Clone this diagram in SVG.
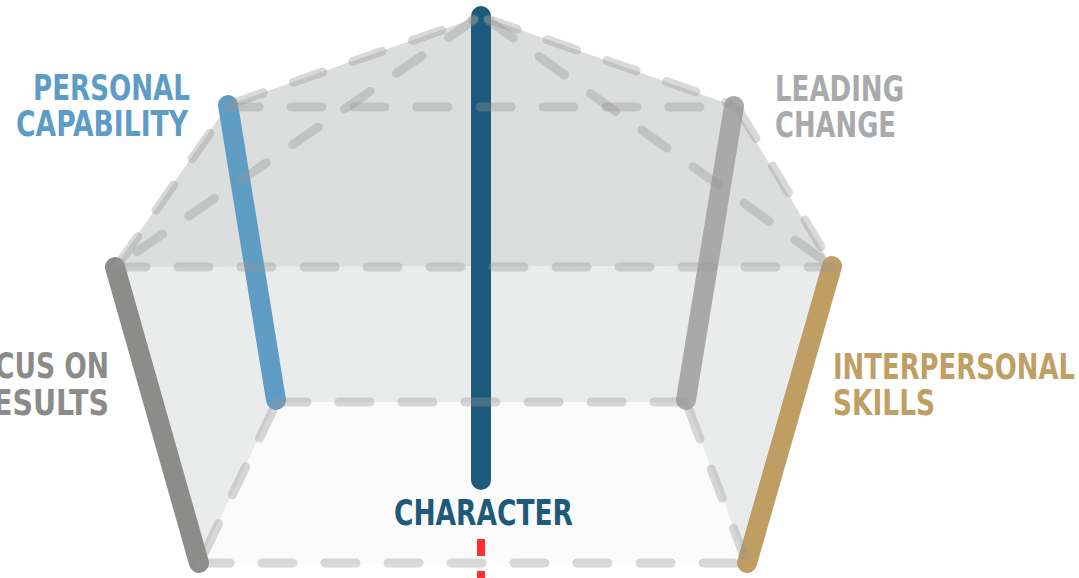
<svg xmlns="http://www.w3.org/2000/svg" width="1079" height="578" viewBox="0 0 1079 578">
<style>
.bar{fill:none;stroke-width:20;stroke-linecap:round}
.dash{fill:none;stroke:#969696;stroke-opacity:0.36;stroke-width:9;stroke-linecap:round;stroke-dasharray:31 32}
.lbl{font-family:"Liberation Sans Narrow","DejaVu Sans Condensed","Liberation Sans",sans-serif;font-weight:bold;font-size:35px}
</style>
<rect width="1079" height="578" fill="#ffffff"/>
<g id="surfaces">
<polygon points="115,267 228,105 481,16 734,106 832,266" fill="#dcdddd"/>
<polygon points="115,267 832,266 747,563 686,402 276,402 199,563" fill="#eaebeb"/>
<polygon points="276,402 686,402 747,563 199,563" fill="#fbfbfb"/>
</g>
<g id="node-focus">
<line class="bar" x1="115" y1="267" x2="199" y2="563" stroke="#8c8c8a"/>
<text class="lbl" x="-5" y="378" textLength="114" lengthAdjust="spacingAndGlyphs" fill="#8b8b89">CUS ON</text>
<text class="lbl" x="-7" y="415" textLength="116" lengthAdjust="spacingAndGlyphs" fill="#8b8b89">ESULTS</text>
</g>
<g id="node-personal">
<line class="bar" x1="228" y1="105" x2="276" y2="400" stroke="#5f9dc5"/>
<text class="lbl" x="33" y="100" textLength="157" lengthAdjust="spacingAndGlyphs" fill="#5d9cc6">PERSONAL</text>
<text class="lbl" x="16" y="136" textLength="172" lengthAdjust="spacingAndGlyphs" fill="#5d9cc6">CAPABILITY</text>
</g>
<g id="node-leading">
<line class="bar" x1="734" y1="106" x2="686" y2="400" stroke="#a9a9a9"/>
<text class="lbl" x="775" y="101" textLength="129" lengthAdjust="spacingAndGlyphs" fill="#a9aaab">LEADING</text>
<text class="lbl" x="775" y="137" textLength="121" lengthAdjust="spacingAndGlyphs" fill="#a9aaab">CHANGE</text>
</g>
<g id="node-interpersonal">
<line class="bar" x1="832" y1="266" x2="747" y2="563" stroke="#bf9d63"/>
<text class="lbl" x="833" y="379" textLength="242" lengthAdjust="spacingAndGlyphs" fill="#bf9f64">INTERPERSONAL</text>
<text class="lbl" x="833" y="415" textLength="102" lengthAdjust="spacingAndGlyphs" fill="#bf9f64">SKILLS</text>
</g>
<g id="node-character">
<line class="bar" x1="481" y1="16" x2="481" y2="480" stroke="#1b5a7a"/>
<text class="lbl" x="394" y="525" textLength="179" lengthAdjust="spacingAndGlyphs" fill="#1d5a7a">CHARACTER</text>
</g>
<g id="connectors">
<line class="dash" x1="228" y1="107" x2="734" y2="107"/>
<line class="dash" x1="115" y1="267" x2="832" y2="267"/>
<line class="dash" x1="276" y1="402" x2="686" y2="402"/>
<line class="dash" x1="199" y1="563" x2="747" y2="563"/>
<line class="dash" x1="120" y1="262" x2="226" y2="110"/>
<line class="dash" x1="234" y1="103" x2="474" y2="19"/>
<line class="dash" x1="488" y1="19" x2="728" y2="103"/>
<line class="dash" x1="740" y1="112" x2="829" y2="260"/>
<line class="dash" x1="474" y1="20" x2="122" y2="262"/>
<line class="dash" x1="488" y1="20" x2="826" y2="262"/>
<line class="dash" x1="273" y1="410" x2="203" y2="556"/>
<line class="dash" x1="689" y1="410" x2="744" y2="556"/>
</g>
<g id="marker">
<rect x="477" y="539" width="8" height="17" fill="#ff3030"/>
<rect x="477" y="571" width="8" height="7" fill="#ff3030"/>
</g>
</svg>
